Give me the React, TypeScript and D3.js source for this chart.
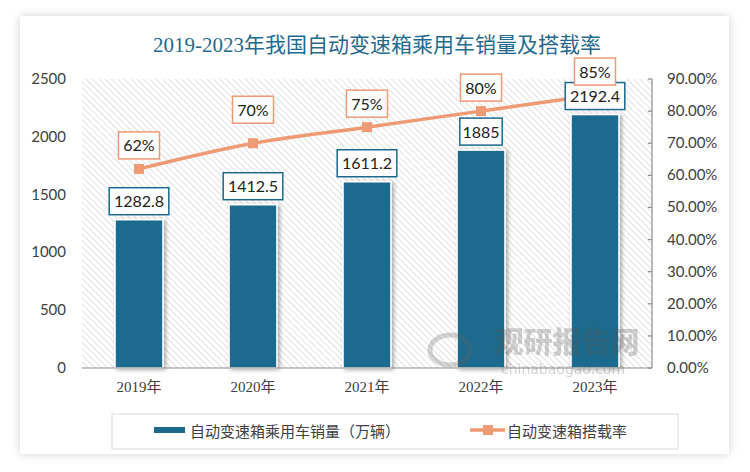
import React from "react";
import * as d3 from "d3";

const years = ["2019年", "2020年", "2021年", "2022年", "2023年"];
const sales = [1282.8, 1412.5, 1611.2, 1885, 2192.4];
const salesLabels = ["1282.8", "1412.5", "1611.2", "1885", "2192.4"];
const rates = [0.62, 0.7, 0.75, 0.8, 0.85];
const rateLabels = ["62%", "70%", "75%", "80%", "85%"];
const leftTicks = [0, 500, 1000, 1500, 2000, 2500];
const rightTicks = [0, 0.1, 0.2, 0.3, 0.4, 0.5, 0.6, 0.7, 0.8, 0.9];
const title = "2019-2023年我国自动变速箱乘用车销量及搭载率";
const legendBar = "自动变速箱乘用车销量（万辆）";
const legendLine = "自动变速箱搭载率";
const rateLabelLift = [10, 20, 10, 10, 10];

const W = 750;
const H = 472;
const BLUE = "#1b6a8d";
const ORANGE = "#ee9a74";
const TXT = "#404040";
const SANS = "Lato, 'Noto Sans CJK SC', sans-serif";
const SERIF = "'Liberation Serif', 'Noto Sans CJK SC', serif";

export default function App() {
  const plotL = 82, plotR = 652, plotT = 79, plotB = 368;
  const x = d3.scaleBand<string>().domain(years).range([plotL, plotR]).paddingInner(0.58).paddingOuter(0.29);
  const y = d3.scaleLinear().domain([0, 2500]).range([plotB, plotT]);
  const y2 = d3.scaleLinear().domain([0, 0.9]).range([plotB, plotT]);
  const cx = (i: number) => (x(years[i]) as number) + x.bandwidth() / 2;

  const line = d3
    .line<number>()
    .x((_, i) => cx(i))
    .y((d) => y2(d))
    .curve(d3.curveMonotoneX);

  return (
    <svg width={W} height={H} style={{ position: "absolute", left: 0, top: 0 }} xmlns="http://www.w3.org/2000/svg">
      <defs>
        <pattern id="hatch" width="4.5" height="4.5" patternUnits="userSpaceOnUse" patternTransform="rotate(-45)">
          <rect width="4.5" height="4.5" fill="#ffffff" />
          <line x1="0" y1="0" x2="0" y2="4.5" stroke="#dadada" strokeWidth="1.6" />
        </pattern>
        <filter id="cardShadow" x="-10%" y="-10%" width="120%" height="120%">
          <feDropShadow dx="0" dy="0" stdDeviation="5" floodColor="#000" floodOpacity="0.18" />
        </filter>
        <filter id="barShadow" x="-30%" y="-10%" width="160%" height="120%">
          <feDropShadow dx="2" dy="1" stdDeviation="2" floodColor="#000" floodOpacity="0.35" />
        </filter>
      </defs>
      <rect x={0} y={0} width={W} height={H} fill="#ffffff" />
      <rect x={20} y={16} width={709} height={438} fill="#ffffff" filter="url(#cardShadow)" />

      <text x={377} y={52} textAnchor="middle" fontFamily={SERIF} fontSize={21} fill="#1f6a8e">
        {title}
      </text>

      <rect x={plotL} y={plotT} width={plotR - plotL} height={plotB - plotT} fill="url(#hatch)" />

      {/* left axis labels */}
      {leftTicks.map((t) => (
        <text key={t} x={66} y={y(t) + 5} textAnchor="end" fontFamily={SANS} fontSize={15} fill={TXT}>
          {t}
        </text>
      ))}

      {/* right axis */}
      <line x1={plotR} x2={plotR} y1={plotT} y2={plotB} stroke="#8c8c8c" strokeWidth={1.2} />
      {rightTicks.map((t) => (
        <g key={t}>
          <line x1={plotR - 4} x2={plotR} y1={y2(t)} y2={y2(t)} stroke="#8c8c8c" strokeWidth={1.2} />
          <text x={667} y={y2(t) + 5} fontFamily={SANS} fontSize={15} fill={TXT}>
            {(t * 100).toFixed(2) + "%"}
          </text>
        </g>
      ))}

      {/* bars */}
      {sales.map((v, i) => (
        <rect
          key={i}
          x={x(years[i]) as number}
          y={y(v)}
          width={x.bandwidth()}
          height={plotB - y(v)}
          fill={BLUE}
          stroke="#ffffff"
          strokeWidth={1.5}
          filter="url(#barShadow)"
        />
      ))}

      {/* bottom axis */}
      <line x1={plotL} x2={plotR} y1={plotB} y2={plotB} stroke="#8c8c8c" strokeWidth={1.2} />
      {years.map((yr, i) => (
        <text key={yr} x={cx(i)} y={392} textAnchor="middle" fontFamily={SERIF} fontSize={15} fill={TXT}>
          {yr}
        </text>
      ))}

      {/* watermark */}
      <g opacity={0.28}>
        <text x={567} y={353} textAnchor="middle" fontFamily="'Noto Sans CJK SC', sans-serif" fontWeight={900} fontSize={29} fill="#555">
          观研报告网
        </text>
        <text x={563} y={374} textAnchor="middle" fontFamily="'DejaVu Sans', sans-serif" fontSize={14} fill="#666">
          chinabaogao.com
        </text>
        <ellipse cx={450} cy={350} rx={20} ry={15} fill="none" stroke="#666" strokeWidth={5} />
      </g>

      {/* line */}
      <path d={line(rates) || ""} fill="none" stroke={ORANGE} strokeWidth={3.5} />
      {rates.map((r, i) => (
        <rect key={i} x={cx(i) - 5} y={y2(r) - 5} width={10} height={10} fill={ORANGE} />
      ))}

      {/* bar labels */}
      {sales.map((v, i) => {
        const w = salesLabels[i].length * 8.6 + 8;
        return (
          <g key={i}>
            <rect x={cx(i) - w / 2} y={y(v) - 32} width={w} height={27} fill="#fff" stroke={BLUE} strokeWidth={1.5} />
            <text x={cx(i)} y={y(v) - 12.5} textAnchor="middle" fontFamily={SANS} fontSize={16} fill="#222">
              {salesLabels[i]}
            </text>
          </g>
        );
      })}

      {/* rate labels */}
      {rates.map((r, i) => {
        const w = 41;
        const bottom = y2(r) - rateLabelLift[i];
        return (
          <g key={i}>
            <rect x={cx(i) - w / 2} y={bottom - 27} width={w} height={27} fill="#fff" stroke={ORANGE} strokeWidth={1.5} />
            <text x={cx(i)} y={bottom - 7.5} textAnchor="middle" fontFamily={SANS} fontSize={16} fill="#222">
              {rateLabels[i]}
            </text>
          </g>
        );
      })}

      {/* legend */}
      <rect x={112} y={414} width={566} height={35} fill="#fff" stroke="#d9d9d9" strokeWidth={1} />
      <rect x={154} y={427} width={31} height={6} fill={BLUE} />
      <text x={190} y={437} fontFamily={SERIF} fontSize={15} fill={TXT}>
        {legendBar}
      </text>
      <line x1={470} x2={505} y1={430} y2={430} stroke={ORANGE} strokeWidth={3.5} />
      <rect x={483} y={425} width={10} height={10} fill={ORANGE} />
      <text x={507} y={437} fontFamily={SERIF} fontSize={15} fill={TXT}>
        {legendLine}
      </text>
    </svg>
  );
}
